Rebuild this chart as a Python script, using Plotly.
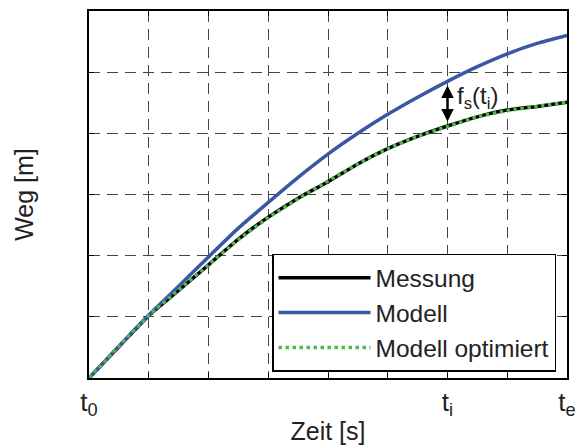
import plotly.graph_objects as go

# Zeitachse (normiert, t0 = 0 ... te = 8)
zeit = [0, 0.5, 1, 1.5, 2, 2.5, 3, 3.5, 4, 4.5, 5, 5.5, 6, 6.5, 7, 7.5, 8]

# Weg-Verlaeufe
weg_messung = [0, 0.51, 1.02, 1.43, 1.85, 2.27, 2.63, 2.94, 3.21, 3.5, 3.75, 3.95, 4.12, 4.27, 4.38, 4.44, 4.51]
weg_modell = [0, 0.52, 1.03, 1.5, 1.98, 2.45, 2.87, 3.28, 3.66, 4.0, 4.31, 4.59, 4.85, 5.09, 5.3, 5.47, 5.6]
weg_optimiert = [0, 0.52, 1.02, 1.44, 1.85, 2.26, 2.62, 2.93, 3.22, 3.5, 3.75, 3.95, 4.11, 4.27, 4.37, 4.44, 4.51]

# Achsenbeschriftung
x_ticks = [0, 6, 8]
x_ticktext = ["t<sub>0</sub>", "t<sub>i</sub>", "t<sub>e</sub>"]
x_grid_step = 1
y_grid_step = 1

# Abweichung bei t_i
t_i = 6
f_s_oben = 4.78
f_s_unten = 4.17

font = "Arial, Liberation Sans, sans-serif"

fig = go.Figure()
fig.add_trace(go.Scatter(x=zeit, y=weg_messung, name="Messung", mode="lines", legendgroup="a",
                         line=dict(color="black", width=3.5, shape="spline", smoothing=0.6)))
fig.add_trace(go.Scatter(x=zeit, y=weg_modell, name="Modell", mode="lines", legendgroup="b",
                         line=dict(color="#3a56a5", width=3.5, shape="spline", smoothing=0.6)))
fig.add_trace(go.Scatter(x=zeit, y=weg_optimiert, name="Modell optimiert", mode="lines",
                         legendgroup="c",
                         line=dict(color="#4fb848", width=3.5, dash="dot", shape="spline",
                                   smoothing=0.6)))

# Doppelpfeil f_s(t_i)
fig.add_annotation(x=t_i, y=f_s_oben, ax=t_i, ay=f_s_unten, xref="x", yref="y",
                   axref="x", ayref="y", text="", showarrow=True,
                   arrowhead=2, startarrowhead=2, arrowside="end+start",
                   arrowwidth=2.5, arrowsize=1, startarrowsize=1, arrowcolor="black")
fig.add_annotation(x=6.12, y=4.58, xref="x", yref="y", xanchor="left", showarrow=False,
                   text="f<sub>s</sub>(t<sub>i</sub>)", font=dict(size=24, color="#222"))

grid_style = dict(showgrid=True, gridcolor="#444", gridwidth=1, griddash="11px,7px")
axis_common = dict(showline=True, linecolor="black", linewidth=1.5, mirror="ticks",
                   ticks="inside", ticklen=5, tickcolor="black",
                   zeroline=False, automargin=False, **grid_style)

fig.update_xaxes(range=[0, 8], tickvals=x_ticks, ticktext=x_ticktext,
                 tickfont=dict(size=26, color="#222"),
                 minor=dict(dtick=x_grid_step, tick0=0, ticks="inside", ticklen=5,
                            tickcolor="black", **grid_style),
                 title=dict(text="Zeit [s]", font=dict(size=25, color="#222"), standoff=3),
                 **axis_common)
fig.update_yaxes(range=[0, 6], dtick=y_grid_step, tick0=0, showticklabels=False,
                 title=dict(text="Weg [m]", font=dict(size=25, color="#222"), standoff=47),
                 **axis_common)

fig.update_layout(
    width=577, height=447,
    margin=dict(l=89, r=10, t=11, b=69),
    paper_bgcolor="white", plot_bgcolor="white",
    font=dict(family=font, color="#222"),
    legend=dict(x=0.977, y=0.017, xanchor="right", yanchor="bottom",
                bgcolor="white", bordercolor="black", borderwidth=1.5,
                font=dict(size=24.5, color="#222"), itemwidth=92,
                traceorder="grouped", tracegroupgap=0),
)

fig.write_html("out.html", config={"displayModeBar": False},
               post_script="document.body.style.margin='0';")
